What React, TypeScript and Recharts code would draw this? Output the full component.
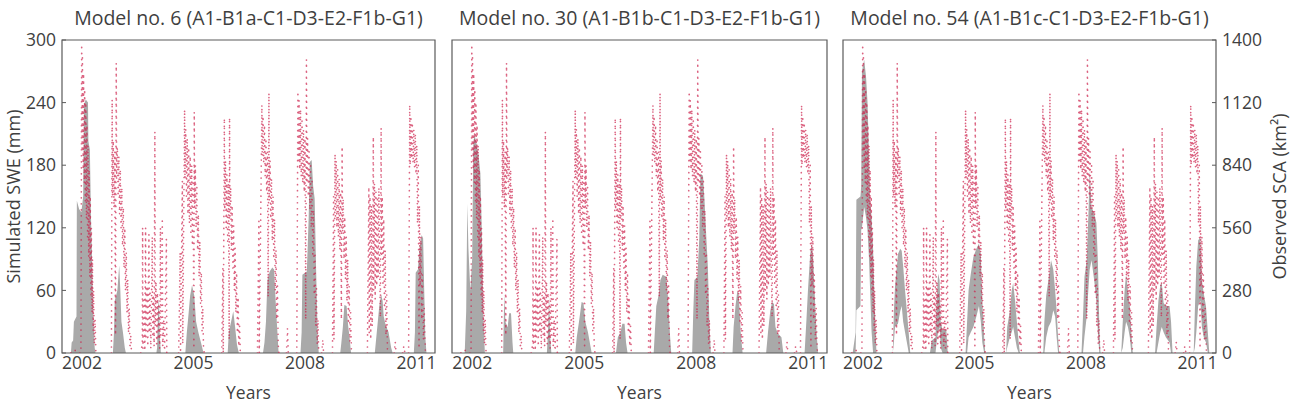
import React from 'react';
import { ComposedChart, Area, Line, XAxis, YAxis, ReferenceArea } from 'recharts';

const FONT = '"Open Sans", "DejaVu Sans", sans-serif';
const INK = '#3f3f3f';
const FRAME = '#5a5a5a';
const SWE_FILL = '#a9a9a9';
const SCA_RED = '#cc1f4a';

const yearTicks = [2002, 2005, 2008, 2011];
const sweTicks = [0, 60, 120, 180, 240, 300];
const scaTicks = [0, 280, 560, 840, 1120, 1400];
const yearDomain: [number, number] = [2001.46, 2011.5];
const sweDomain: [number, number] = [0, 300];
const scaDomain: [number, number] = [0, 1400];

const panelTitles = [
  'Model no. 6 (A1-B1a-C1-D3-E2-F1b-G1)',
  'Model no. 30 (A1-B1b-C1-D3-E2-F1b-G1)',
  'Model no. 54 (A1-B1c-C1-D3-E2-F1b-G1)',
];

// Observed snow-covered area [year, km²]; null separates snow seasons
const observedSca: Array<[number, number | null]> = [
  [2001.70, 0], [2001.80, 15], [2001.86, 0], [2001.97, 0], [2001.99, 1380], [2002.00, 900], [2002.01, 1320], [2002.03, 820],
  [2002.04, 1250], [2002.06, 760], [2002.07, 1180], [2002.09, 680], [2002.10, 1120], [2002.12, 600], [2002.13, 1020],
  [2002.15, 520], [2002.16, 930], [2002.18, 430], [2002.19, 820], [2002.21, 340], [2002.22, 700], [2002.24, 260],
  [2002.25, 560], [2002.27, 180], [2002.28, 420], [2002.30, 100], [2002.31, 280], [2002.33, 40], [2002.35, 150],
  [2002.37, 10], [2002.39, 0], [2002.40, null],
  [2002.79, 0], [2002.81, 1134], [2002.82, 700], [2002.84, 950], [2002.86, 650], [2002.88, 900], [2002.90, 80],
  [2002.92, 1297], [2002.93, 780], [2002.95, 920], [2002.97, 700], [2002.99, 880], [2003.01, 620], [2003.03, 820],
  [2003.05, 560], [2003.07, 740], [2003.09, 480], [2003.11, 650], [2003.13, 380], [2003.15, 560], [2003.17, 280],
  [2003.19, 450], [2003.21, 180], [2003.23, 330], [2003.25, 90], [2003.27, 200], [2003.29, 20], [2003.31, 80],
  [2003.33, 0], [2003.34, null],
  [2003.58, 0], [2003.62, 40], [2003.63, 560], [2003.64, 20], [2003.67, 250], [2003.69, 10], [2003.71, 560],
  [2003.72, 60], [2003.75, 300], [2003.77, 30], [2003.80, 530], [2003.81, 90], [2003.83, 280], [2003.85, 20],
  [2003.87, 230], [2003.89, 520], [2003.90, 70], [2003.92, 260], [2003.94, 30], [2003.96, 990], [2003.97, 120],
  [2003.99, 320], [2004.01, 40], [2004.03, 270], [2004.05, 60], [2004.07, 210], [2004.09, 20], [2004.11, 560],
  [2004.12, 80], [2004.14, 250], [2004.16, 590], [2004.17, 30], [2004.20, 150], [2004.22, 10], [2004.27, 510],
  [2004.28, 0], [2004.30, null],
  [2004.60, 0], [2004.64, 450], [2004.65, 0], [2004.70, 770], [2004.71, 40], [2004.76, 1088], [2004.77, 780],
  [2004.79, 1000], [2004.81, 700], [2004.83, 960], [2004.85, 620], [2004.87, 920], [2004.89, 580], [2004.91, 880],
  [2004.93, 540], [2004.95, 840], [2004.97, 480], [2004.99, 760], [2005.01, 20], [2005.02, 1078], [2005.03, 650],
  [2005.05, 840], [2005.07, 560], [2005.09, 740], [2005.11, 460], [2005.13, 620], [2005.15, 340], [2005.17, 500],
  [2005.19, 220], [2005.21, 360], [2005.23, 100], [2005.25, 200], [2005.27, 20], [2005.29, 0], [2005.30, null],
  [2005.76, 0], [2005.79, 380], [2005.80, 0], [2005.83, 1050], [2005.84, 640], [2005.86, 860], [2005.88, 560],
  [2005.90, 800], [2005.92, 500], [2005.94, 760], [2005.96, 60], [2005.97, 1053], [2005.98, 600], [2006.00, 740],
  [2006.02, 460], [2006.04, 660], [2006.06, 380], [2006.08, 570], [2006.10, 280], [2006.12, 470], [2006.14, 180],
  [2006.16, 360], [2006.18, 90], [2006.20, 250], [2006.22, 30], [2006.24, 120], [2006.26, 0], [2006.27, null],
  [2006.72, 0], [2006.76, 590], [2006.77, 0], [2006.84, 1110], [2006.85, 880], [2006.87, 1060], [2006.89, 850],
  [2006.91, 1020], [2006.93, 790], [2006.95, 960], [2006.97, 720], [2006.99, 900], [2007.01, 250], [2007.03, 1163],
  [2007.04, 680], [2007.06, 860], [2007.08, 600], [2007.10, 780], [2007.12, 500], [2007.14, 700], [2007.16, 420],
  [2007.18, 600], [2007.20, 280], [2007.22, 460], [2007.24, 150], [2007.26, 300], [2007.28, 40], [2007.30, 0],
  [2007.31, null],
  [2007.50, 0], [2007.53, 110], [2007.55, 0], [2007.56, null],
  [2007.78, 0], [2007.81, 1170], [2007.82, 860], [2007.84, 1130], [2007.86, 820], [2007.88, 1090], [2007.90, 790],
  [2007.92, 1050], [2007.94, 760], [2007.96, 1000], [2007.98, 720], [2008.00, 960], [2008.02, 150], [2008.04, 1312],
  [2008.05, 760], [2008.07, 960], [2008.09, 700], [2008.11, 900], [2008.13, 640], [2008.15, 850], [2008.17, 560],
  [2008.19, 780], [2008.21, 430], [2008.23, 640], [2008.25, 260], [2008.27, 450], [2008.29, 120], [2008.31, 300],
  [2008.33, 40], [2008.35, 150], [2008.37, 0], [2008.38, null],
  [2008.45, 0], [2008.48, 60], [2008.50, 0], [2008.51, null],
  [2008.74, 0], [2008.77, 700], [2008.78, 60], [2008.81, 890], [2008.82, 600], [2008.84, 860], [2008.86, 560],
  [2008.88, 820], [2008.90, 520], [2008.92, 780], [2008.94, 460], [2008.96, 720], [2008.98, 150], [2009.00, 924],
  [2009.01, 540], [2009.03, 690], [2009.05, 420], [2009.07, 610], [2009.09, 330], [2009.11, 520], [2009.13, 230],
  [2009.15, 420], [2009.17, 130], [2009.19, 300], [2009.21, 50], [2009.23, 180], [2009.25, 10], [2009.27, 0],
  [2009.28, null],
  [2009.68, 0], [2009.72, 743], [2009.73, 90], [2009.75, 700], [2009.77, 60], [2009.79, 660], [2009.81, 120],
  [2009.84, 967], [2009.85, 280], [2009.87, 760], [2009.89, 240], [2009.91, 720], [2009.93, 300], [2009.95, 700],
  [2009.97, 340], [2009.99, 740], [2010.01, 380], [2010.03, 160], [2010.05, 1007], [2010.06, 440], [2010.08, 700],
  [2010.10, 300], [2010.12, 600], [2010.14, 200], [2010.16, 460], [2010.18, 80], [2010.20, 260], [2010.22, 10],
  [2010.24, 0], [2010.25, null],
  [2010.40, 0], [2010.43, 50], [2010.45, 0], [2010.46, null],
  [2010.63, 0], [2010.66, 30], [2010.69, 0], [2010.70, null],
  [2010.79, 0], [2010.82, 1110], [2010.83, 840], [2010.85, 1060], [2010.87, 870], [2010.89, 1030], [2010.91, 850],
  [2010.93, 1000], [2010.95, 830], [2010.97, 980], [2010.99, 800], [2011.01, 930], [2011.03, 580], [2011.05, 840],
  [2011.07, 20], [2011.08, 660], [2011.10, 300], [2011.12, 520], [2011.14, 150], [2011.16, 350], [2011.19, 60],
  [2011.21, 200], [2011.24, 10], [2011.26, 0],
];

// Simulated SWE [year, mm] — model no. 6
const sweModel6: Array<[number, number]> = [
  [2001.70, 0], [2001.72, 10], [2001.76, 12], [2001.78, 30], [2001.85, 35], [2001.86, 146], [2001.92, 138],
  [2001.98, 135], [2002.03, 150], [2002.05, 238], [2002.10, 243], [2002.16, 240], [2002.17, 203], [2002.21, 195],
  [2002.24, 130], [2002.27, 90], [2002.30, 40], [2002.34, 5], [2002.36, 0],
  [2002.83, 0], [2002.86, 20], [2002.88, 50], [2002.95, 60], [2003.00, 84], [2003.03, 60], [2003.06, 30],
  [2003.10, 20], [2003.15, 5], [2003.18, 0],
  [2004.00, 0], [2004.02, 5], [2004.05, 45], [2004.07, 52], [2004.09, 20], [2004.12, 0],
  [2004.78, 0], [2004.82, 20], [2004.86, 35], [2004.91, 55], [2004.96, 65], [2005.02, 55], [2005.07, 30],
  [2005.13, 20], [2005.20, 10], [2005.27, 0],
  [2005.92, 0], [2005.95, 20], [2006.00, 28], [2006.07, 40], [2006.12, 25], [2006.17, 8], [2006.22, 0],
  [2006.87, 0], [2006.91, 10], [2006.95, 30], [2006.99, 70], [2007.05, 78], [2007.12, 82], [2007.17, 80],
  [2007.21, 50], [2007.25, 25], [2007.29, 0],
  [2007.88, 0], [2007.91, 20], [2007.93, 75], [2008.05, 78], [2008.10, 130], [2008.13, 183], [2008.18, 185],
  [2008.22, 160], [2008.26, 148], [2008.30, 80], [2008.34, 20], [2008.37, 0],
  [2008.95, 0], [2008.98, 10], [2009.02, 25], [2009.06, 46], [2009.12, 45], [2009.16, 27], [2009.20, 15], [2009.24, 0],
  [2009.88, 0], [2009.92, 15], [2009.96, 30], [2010.00, 45], [2010.05, 56], [2010.09, 50], [2010.12, 35],
  [2010.17, 27], [2010.25, 20], [2010.32, 5], [2010.36, 0],
  [2010.93, 0], [2010.96, 20], [2010.98, 77], [2011.04, 80], [2011.08, 100], [2011.14, 113], [2011.18, 110],
  [2011.21, 60], [2011.24, 15], [2011.27, 0],
];

// Simulated SWE [year, mm] — model no. 30
const sweModel30: Array<[number, number]> = [
  [2001.80, 0], [2001.84, 40], [2001.87, 143], [2001.90, 100], [2001.95, 60], [2002.00, 90], [2002.03, 200],
  [2002.06, 210], [2002.12, 200], [2002.17, 190], [2002.22, 172], [2002.26, 115], [2002.30, 35], [2002.34, 0],
  [2002.83, 0], [2002.86, 57], [2002.89, 30], [2002.95, 25], [2002.99, 38], [2003.04, 38], [2003.08, 10], [2003.10, 0],
  [2004.00, 0], [2004.03, 20], [2004.06, 54], [2004.09, 15], [2004.12, 0],
  [2004.76, 0], [2004.80, 15], [2004.86, 30], [2004.93, 49], [2004.98, 48], [2005.03, 30], [2005.10, 20],
  [2005.16, 8], [2005.20, 0],
  [2005.85, 0], [2005.90, 15], [2005.97, 20], [2006.02, 28], [2006.08, 28], [2006.12, 10], [2006.16, 0],
  [2006.86, 0], [2006.89, 20], [2006.93, 45], [2006.99, 55], [2007.04, 70], [2007.10, 75], [2007.20, 73],
  [2007.25, 50], [2007.30, 15], [2007.33, 0],
  [2007.89, 0], [2007.92, 40], [2007.95, 70], [2008.03, 73], [2008.08, 110], [2008.11, 172], [2008.18, 170],
  [2008.22, 147], [2008.27, 110], [2008.31, 83], [2008.35, 32], [2008.39, 0],
  [2008.97, 0], [2009.00, 25], [2009.05, 45], [2009.10, 60], [2009.14, 55], [2009.19, 20], [2009.24, 0],
  [2009.87, 0], [2009.92, 20], [2009.98, 40], [2010.03, 49], [2010.08, 47], [2010.12, 25], [2010.18, 19],
  [2010.28, 15], [2010.33, 0],
  [2010.90, 0], [2010.95, 32], [2010.99, 60], [2011.05, 95], [2011.09, 105], [2011.13, 90], [2011.17, 57],
  [2011.22, 20], [2011.26, 0],
];

// Simulated SWE band [year, low mm, high mm] — model no. 54
const sweModel54: Array<[number, number, number]> = [
  [2001.72, 0, 0], [2001.80, 0, 20], [2001.82, 41, 147], [2001.93, 45, 150], [2001.95, 118, 160], [2001.97, 120, 270],
  [2002.03, 140, 281], [2002.08, 130, 265], [2002.12, 118, 240], [2002.16, 90, 190], [2002.19, 60, 147],
  [2002.23, 20, 130], [2002.27, 0, 100], [2002.31, 0, 50], [2002.36, 0, 0],
  [2002.80, 0, 0], [2002.83, 10, 40], [2002.86, 25, 64], [2002.94, 28, 95], [2003.00, 40, 100], [2003.04, 45, 98],
  [2003.08, 30, 83], [2003.13, 20, 60], [2003.18, 10, 40], [2003.23, 0, 19], [2003.27, 0, 0],
  [2003.80, 0, 0], [2003.85, 0, 12], [2003.95, 0, 15], [2003.98, 10, 50], [2004.02, 20, 76], [2004.06, 25, 70],
  [2004.09, 5, 30], [2004.14, 0, 22], [2004.24, 0, 22], [2004.28, 0, 0],
  [2004.76, 0, 0], [2004.80, 0, 30], [2004.84, 15, 60], [2004.90, 20, 76], [2004.97, 25, 92], [2005.05, 35, 100],
  [2005.12, 45, 105], [2005.17, 30, 95], [2005.21, 10, 50], [2005.26, 0, 15], [2005.29, 0, 0],
  [2005.85, 0, 0], [2005.88, 5, 25], [2005.95, 15, 40], [2006.00, 20, 60], [2006.04, 25, 67], [2006.09, 15, 51],
  [2006.14, 5, 30], [2006.19, 0, 10], [2006.22, 0, 0],
  [2006.85, 0, 0], [2006.88, 0, 30], [2006.93, 15, 55], [2006.99, 25, 70], [2007.06, 30, 89], [2007.12, 41, 80],
  [2007.17, 35, 60], [2007.21, 15, 41], [2007.25, 0, 15], [2007.28, 0, 0],
  [2007.88, 0, 0], [2007.92, 0, 35], [2007.96, 16, 73], [2008.02, 35, 89], [2008.07, 64, 137], [2008.10, 80, 175],
  [2008.15, 89, 140], [2008.22, 70, 134], [2008.28, 50, 125], [2008.32, 20, 89], [2008.36, 0, 25], [2008.39, 0, 0],
  [2008.95, 0, 0], [2008.99, 5, 30], [2009.04, 20, 60], [2009.08, 30, 76], [2009.13, 25, 60], [2009.18, 15, 45],
  [2009.22, 0, 20], [2009.26, 0, 0],
  [2009.86, 0, 0], [2009.90, 0, 25], [2009.95, 10, 50], [2010.00, 20, 65], [2010.04, 25, 67], [2010.09, 20, 48],
  [2010.15, 15, 45], [2010.25, 10, 45], [2010.29, 0, 30], [2010.33, 0, 0],
  [2010.90, 0, 0], [2010.93, 5, 40], [2010.97, 20, 83], [2011.02, 45, 108], [2011.08, 50, 111], [2011.12, 25, 70],
  [2011.17, 15, 57], [2011.23, 10, 45], [2011.28, 0, 20], [2011.32, 0, 0],
];

const scaRows = observedSca.map(([t, v]) => ({ t, sca: v }));
const rows6 = sweModel6.map(([t, v]) => ({ t, swe: v }));
const rows30 = sweModel30.map(([t, v]) => ({ t, swe: v }));
const rows54 = sweModel54.map(([t, lo, hi]) => ({ t, swe: [lo, hi] }));

const tickStyle = { fill: INK, fontSize: 17.5, fontFamily: FONT };

type PanelProps = {
  left: number;
  width: number;
  leftW: number;
  rightW: number;
  rows: Array<Record<string, unknown>>;
  title: string;
  showLeft: boolean;
  showRight: boolean;
};

function Panel({ left, width, leftW, rightW, rows, title, showLeft, showRight }: PanelProps) {
  return (
    <div style={{ position: 'absolute', left, top: 0 }}>
      <ComposedChart width={width} height={403} data={rows} margin={{ top: 40, right: 0, bottom: 0, left: 0 }}>
        <XAxis
          dataKey="t"
          type="number"
          domain={yearDomain}
          ticks={yearTicks}
          allowDataOverflow
          axisLine={false}
          tickLine={false}
          tickSize={0}
          tickMargin={4}
          height={50}
          tick={tickStyle}
          label={{ value: 'Years', position: 'insideBottom', offset: 4, fill: INK, fontSize: 17.5, fontFamily: FONT }}
        />
        <YAxis
          yAxisId="swe"
          orientation="left"
          type="number"
          domain={sweDomain}
          ticks={sweTicks}
          width={leftW}
          allowDataOverflow
          axisLine={false}
          tickLine={{ stroke: FRAME }}
          tickSize={-4}
          tickMargin={10}
          tick={showLeft ? tickStyle : false}
          label={
            showLeft
              ? { value: 'Simulated SWE (mm)', angle: -90, position: 'center', dx: -17, fill: INK, fontSize: 18, fontFamily: FONT }
              : undefined
          }
        />
        <YAxis
          yAxisId="sca"
          orientation="right"
          type="number"
          domain={scaDomain}
          ticks={scaTicks}
          width={rightW}
          allowDataOverflow
          axisLine={false}
          tickLine={{ stroke: FRAME }}
          tickSize={-4}
          tickMargin={10}
          tick={showRight ? tickStyle : false}
          label={
            showRight
              ? { value: 'Observed SCA (km²)', angle: -90, position: 'center', dx: 25, fill: INK, fontSize: 18, fontFamily: FONT }
              : undefined
          }
        />
        <Area
          yAxisId="swe"
          dataKey="swe"
          type="linear"
          stroke="none"
          fill={SWE_FILL}
          fillOpacity={1}
          dot={false}
          activeDot={false}
          isAnimationActive={false}
        />
        <Line
          yAxisId="sca"
          data={scaRows}
          dataKey="sca"
          type="linear"
          stroke={SCA_RED}
          strokeOpacity={0.7}
          strokeWidth={1.7}
          strokeDasharray="0.01 6"
          strokeLinecap="round"
          dot={false}
          activeDot={false}
          connectNulls={false}
          isAnimationActive={false}
        />
        <ReferenceArea
          yAxisId="swe"
          x1={yearDomain[0]}
          x2={yearDomain[1]}
          y1={sweDomain[0]}
          y2={sweDomain[1]}
          fill="none"
          fillOpacity={0}
          stroke={FRAME}
          strokeWidth={1.2}
          label={{ value: title, position: 'top', offset: 15, fill: INK, fontSize: 19.5, fontFamily: FONT }}
        />
      </ComposedChart>
    </div>
  );
}

export default function App() {
  return (
    <div style={{ position: 'absolute', left: 0, top: 0, width: 1293, height: 403, background: '#fff', overflow: 'hidden' }}>
      <Panel left={0} width={445} leftW={62} rightW={10} rows={rows6} title={panelTitles[0]} showLeft showRight={false} />
      <Panel left={442} width={395} leftW={10} rightW={10} rows={rows30} title={panelTitles[1]} showLeft={false} showRight={false} />
      <Panel left={833} width={460} leftW={10} rightW={77} rows={rows54} title={panelTitles[2]} showLeft={false} showRight />
    </div>
  );
}
